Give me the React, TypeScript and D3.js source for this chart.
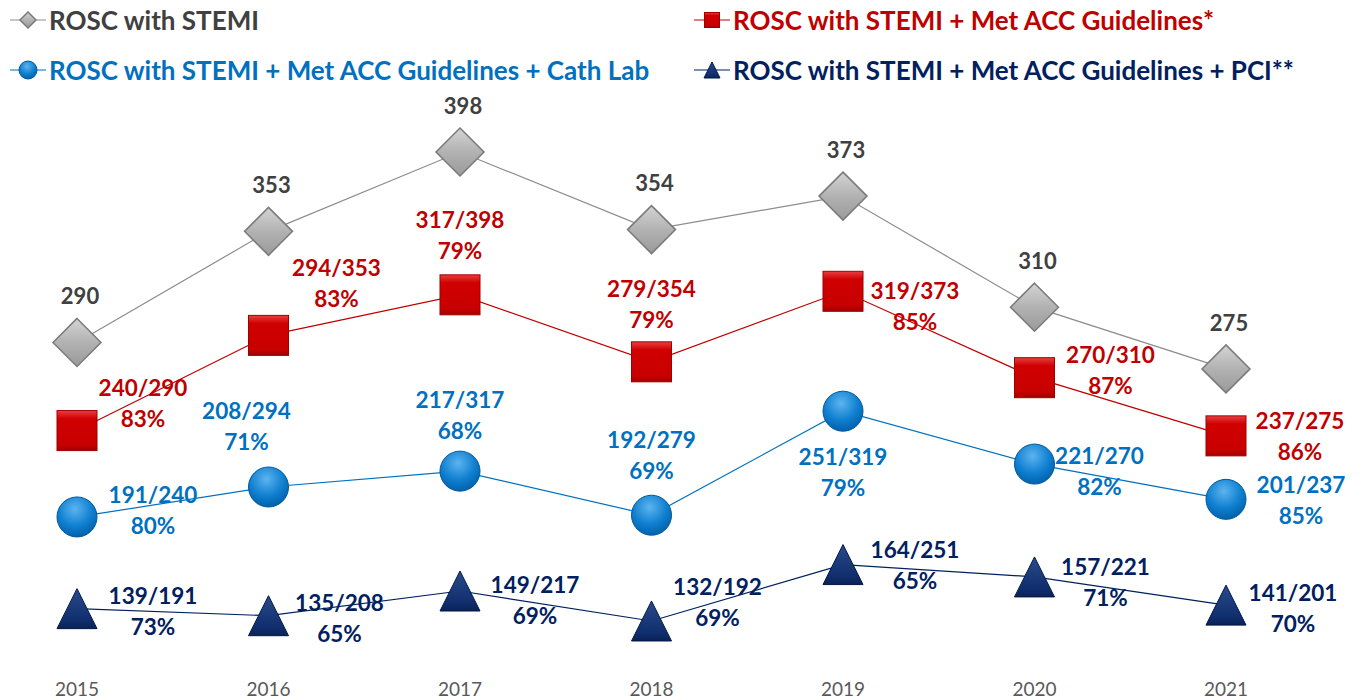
import * as d3 from 'd3';

const years = ['2015', '2016', '2017', '2018', '2019', '2020', '2021'];

const roscStemi = [290, 353, 398, 354, 373, 310, 275];
const metAcc = [240, 294, 317, 279, 319, 270, 237];
const cathLab = [191, 208, 217, 192, 251, 221, 201];
const pci = [139, 135, 149, 132, 164, 157, 141];

const metAccPct = [83, 83, 79, 79, 85, 87, 86];
const cathLabPct = [80, 71, 68, 69, 79, 82, 85];
const pciPct = [73, 65, 69, 69, 65, 71, 70];

const legendNames = [
  'ROSC with STEMI',
  'ROSC with STEMI + Met ACC Guidelines*',
  'ROSC with STEMI + Met ACC Guidelines + Cath Lab',
  'ROSC with STEMI + Met ACC Guidelines + PCI**',
];

// label placement relative to each point: [dx, dy] of first line centre
const metAccLabelPos = [[66, -42], [68, -67], [0, -75], [0, -73], [72, 0], [76, -23], [74, -15]];
const cathLabLabelPos = [[76, -22], [-22, -76], [0, -71], [0, -75], [0, 46], [65, -8], [75, -14]];
const pciLabelPos = [[76, -13], [71, -13], [75, -6], [66, -34], [72, -14], [71, -10], [67, -12]];

const W = 1361;
const H = 700;
const FONT = 'Lato, "Open Sans", sans-serif';

const GRAY = '#404040';
const RED = '#C00000';
const BLUE = '#0070C0';
const NAVY = '#002060';

type Shape = 'diamond' | 'square' | 'circle' | 'triangle';

function Marker({ shape, x, y, s }: { shape: Shape; x: number; y: number; s: number }) {
  const h = s / 2;
  if (shape === 'diamond') {
    return (
      <path
        d={`M${x},${y - h}L${x + h},${y}L${x},${y + h}L${x - h},${y}Z`}
        fill="url(#gDiamond)"
        stroke="#7a7a7a"
        strokeWidth={1.5}
      />
    );
  }
  if (shape === 'square') {
    return (
      <rect x={x - h} y={y - h} width={s} height={s} fill="url(#gSquare)" stroke="#a00000" strokeWidth={1} />
    );
  }
  if (shape === 'circle') {
    return <circle cx={x} cy={y} r={h} fill="url(#gCircle)" stroke="#00589a" strokeWidth={1} />;
  }
  return (
    <path
      d={`M${x},${y - h}L${x + h},${y + h}L${x - h},${y + h}Z`}
      fill="url(#gTriangle)"
      stroke="#001845"
      strokeWidth={1}
    />
  );
}

export default function App() {
  const x = d3.scalePoint<string>().domain(years).range([77, 1226]);
  const y = d3.scaleLinear().domain([100, 400]).range([677.4, 148.5]);

  const line = d3
    .line<number>()
    .x((_, i) => x(years[i]) as number)
    .y((d) => y(d));

  const series: {
    values: number[];
    color: string;
    shape: Shape;
    size: number;
    base?: number[];
    pct?: number[];
    pos?: number[][];
  }[] = [
    { values: roscStemi, color: '#8c8c8c', shape: 'diamond', size: 48 },
    { values: metAcc, color: RED, shape: 'square', size: 40, base: roscStemi, pct: metAccPct, pos: metAccLabelPos },
    { values: cathLab, color: BLUE, shape: 'circle', size: 40, base: metAcc, pct: cathLabPct, pos: cathLabLabelPos },
    { values: pci, color: NAVY, shape: 'triangle', size: 40, base: cathLab, pct: pciPct, pos: pciLabelPos },
  ];
  const textColors = [GRAY, RED, BLUE, NAVY];

  const legendItems = [
    { x: 28, y: 20, shape: 'diamond' as Shape, size: 16, line: '#8c8c8c' },
    { x: 712, y: 20, shape: 'square' as Shape, size: 15, line: RED },
    { x: 28, y: 70, shape: 'circle' as Shape, size: 18, line: BLUE },
    { x: 712, y: 70, shape: 'triangle' as Shape, size: 16, line: NAVY },
  ];

  return (
    <svg
      width={W}
      height={H}
      style={{ position: 'absolute', left: 0, top: 0, background: '#fff' }}
      fontFamily={FONT}
    >
      <defs>
        <linearGradient id="gDiamond" x1="0" y1="0" x2="0" y2="1">
          <stop offset="0" stopColor="#d4d4d4" />
          <stop offset="0.5" stopColor="#b2b2b2" />
          <stop offset="1" stopColor="#9a9a9a" />
        </linearGradient>
        <linearGradient id="gSquare" x1="0" y1="0" x2="0" y2="1">
          <stop offset="0" stopColor="#e84040" />
          <stop offset="0.2" stopColor="#d00000" />
          <stop offset="0.85" stopColor="#c80000" />
          <stop offset="1" stopColor="#a00000" />
        </linearGradient>
        <radialGradient id="gCircle" cx="0.45" cy="0.3" r="0.7">
          <stop offset="0" stopColor="#5cb4f0" />
          <stop offset="0.6" stopColor="#1080d0" />
          <stop offset="1" stopColor="#0062ad" />
        </radialGradient>
        <linearGradient id="gTriangle" x1="0" y1="0" x2="0" y2="1">
          <stop offset="0" stopColor="#2a4a8a" />
          <stop offset="0.8" stopColor="#102e6e" />
          <stop offset="1" stopColor="#0a2255" />
        </linearGradient>
      </defs>

      {/* legend */}
      {legendItems.map((l, i) => (
        <g key={i}>
          <line x1={l.x - 18} x2={l.x + 18} y1={l.y} y2={l.y} stroke={l.line} strokeWidth={1.2} />
          <Marker shape={l.shape} x={l.x} y={l.y} s={l.size} />
          <text x={l.x + 21} y={l.y + 9.5} fontSize={26} fontWeight={700} fill={textColors[i]}>
            {legendNames[i]}
          </text>
        </g>
      ))}

      {/* lines */}
      {series.map((s, i) => (
        <path key={i} d={line(s.values) ?? ''} fill="none" stroke={s.color} strokeWidth={1.2} />
      ))}

      {/* markers */}
      {series.map((s, i) => (
        <g key={i}>
          {s.values.map((v, j) => (
            <Marker key={j} shape={s.shape} x={x(years[j]) as number} y={y(v)} s={s.size} />
          ))}
        </g>
      ))}

      {/* gray value labels */}
      {roscStemi.map((v, j) => (
        <text
          key={j}
          x={(x(years[j]) as number) + 3}
          y={y(v) - 46}
          dy="0.35em"
          textAnchor="middle"
          fontSize={22}
          fontWeight={700}
          fill={GRAY}
        >
          {v}
        </text>
      ))}

      {/* ratio labels */}
      {series.slice(1).map((s, i) => (
        <g key={i} fill={textColors[i + 1]} fontSize={22.5} fontWeight={700} textAnchor="middle">
          {s.values.map((v, j) => {
            const px = (x(years[j]) as number) + s.pos![j][0];
            const py = y(v) + s.pos![j][1];
            return (
              <g key={j}>
                <text x={px} y={py} dy="0.35em">
                  {`${v}/${s.base![j]}`}
                </text>
                <text x={px} y={py + 31} dy="0.35em">
                  {`${s.pct![j]}%`}
                </text>
              </g>
            );
          })}
        </g>
      ))}

      {/* x axis labels */}
      {years.map((yr) => (
        <text key={yr} x={x(yr) as number} y={696} textAnchor="middle" fontSize={19} fill="#595959">
          {yr}
        </text>
      ))}
    </svg>
  );
}
